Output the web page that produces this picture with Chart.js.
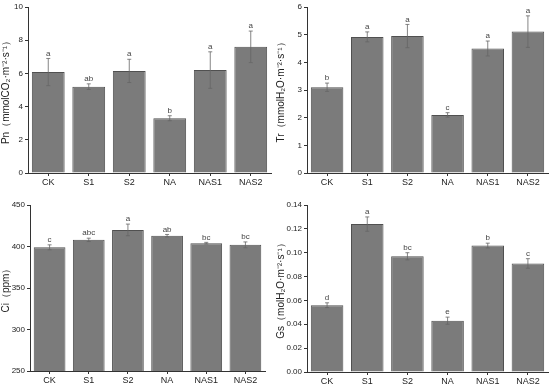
<!DOCTYPE html>
<html>
<head>
<meta charset="utf-8">
<script src="https://cdn.jsdelivr.net/npm/chart.js@4"></script>
<style>
  body { margin: 0; background: #fff; }
  #wrap { position: relative; width: 550px; height: 387px; }
  .panel { position: absolute; }
</style>
</head>
<body>
<div id="wrap">
  <div class="panel" style="left:0;top:0;width:275px;height:190px"><canvas id="pn"></canvas></div>
  <div class="panel" style="left:275px;top:0;width:275px;height:190px"><canvas id="tr"></canvas></div>
  <div class="panel" style="left:0;top:190px;width:275px;height:197px"><canvas id="ci"></canvas></div>
  <div class="panel" style="left:275px;top:190px;width:275px;height:197px"><canvas id="gs"></canvas></div>
</div>
<script>
// Data

const groups = ["CK", "S1", "S2", "NA", "NAS1", "NAS2"];

const pnValues = [6.08, 5.2, 6.15, 3.3, 6.2, 7.6];
const pnErrors = [0.82, 0.17, 0.7, 0.15, 1.1, 0.95];
const pnLetters = ["a", "ab", "a", "b", "a", "a"];

const trValues = [3.1, 4.92, 4.95, 2.1, 4.5, 5.11];
const trErrors = [0.15, 0.18, 0.42, 0.08, 0.27, 0.57];
const trLetters = ["b", "a", "a", "c", "a", "a"];

const ciValues = [399, 408, 420, 413, 404, 402];
const ciErrors = [3, 2, 7, 1.5, 1, 3.5];
const ciLetters = ["c", "abc", "a", "ab", "bc", "bc"];

const gsValues = [0.056, 0.124, 0.097, 0.043, 0.106, 0.091];
const gsErrors = [0.002, 0.006, 0.003, 0.003, 0.002, 0.004];
const gsLetters = ["d", "a", "bc", "e", "b", "c"];

const font = "'Liberation Sans', Arial, sans-serif";

// error bars + significance letters
const errorBars = {
  id: "errorBars",
  afterDatasetsDraw(chart, args, opts) {
    const ctx = chart.ctx;
    const meta = chart.getDatasetMeta(0);
    const y = chart.scales.y;
    ctx.save();
    ctx.strokeStyle = "#666";
    ctx.lineWidth = 0.8;
    meta.data.forEach((bar, i) => {
      const v = opts.values[i];
      const e = opts.errors[i];
      const top = y.getPixelForValue(v + e);
      const bot = y.getPixelForValue(v - e);
      ctx.beginPath();
      ctx.moveTo(bar.x, top);
      ctx.lineTo(bar.x, bot);
      ctx.moveTo(bar.x - 2, top);
      ctx.lineTo(bar.x + 2, top);
      ctx.moveTo(bar.x - 2, bot);
      ctx.lineTo(bar.x + 2, bot);
      ctx.stroke();
      ctx.fillStyle = "#444";
      ctx.font = "8px " + font;
      ctx.textAlign = "center";
      ctx.textBaseline = "bottom";
      ctx.fillText(opts.letters[i], bar.x, top - 1);
    });
    ctx.restore();
  },
};

function makeChart(id, values, errors, letters, yMin, yMax, step, title, pad, yWidth, xHeight, decimals) {
  new Chart(document.getElementById(id), {
    type: "bar",
    data: {
      labels: groups,
      datasets: [
        {
          data: values,
          backgroundColor: "#7b7b7b",
          borderColor: "#505050",
          borderWidth: 1,
          barPercentage: 0.81,
          categoryPercentage: 1.0,
        },
      ],
    },
    options: {
      animation: false,
      responsive: true,
      maintainAspectRatio: false,
      layout: { padding: pad },
      plugins: {
        legend: { display: false },
        tooltip: { enabled: false },
        errorBars: { values: values, errors: errors, letters: letters },
      },
      scales: {
        x: {
          grid: { display: true, drawOnChartArea: false, offset: false, tickLength: 3, color: "#333" },
          border: { color: "#333", width: 1 },
          ticks: { color: "#222", font: { family: font, size: 9 }, padding: 1, maxRotation: 0 },
          afterFit: (s) => { s.height = xHeight; },
        },
        y: {
          min: yMin,
          max: yMax,
          grid: { display: true, drawOnChartArea: false, tickLength: 3, color: "#333" },
          border: { color: "#333", width: 1 },
          ticks: {
            stepSize: step,
            color: "#222",
            padding: 2,
            font: { family: font, size: 8 },
            callback: (v) => v.toFixed(decimals),
          },
          title: {
            display: true,
            text: title,
            color: "#222",
            font: { family: font, size: 10 },
            padding: { top: 0, bottom: 0 },
          },
          afterFit: (s) => { s.width = yWidth; },
        },
      },
    },
    plugins: [errorBars],
  });
}

makeChart("pn", pnValues, pnErrors, pnLetters, 0, 10, 2,
  "Pn（mmolCO₂·m⁻²·s⁻¹）", { top: 7, right: 4 }, 28, 17, 0);
makeChart("tr", trValues, trErrors, trLetters, 0, 6, 1,
  "Tr（mmolH₂O·m⁻²·s⁻¹）", { top: 7, right: 2 }, 32, 17, 0);
makeChart("ci", ciValues, ciErrors, ciLetters, 250, 450, 50,
  "Ci（ppm）", { top: 15, right: 10 }, 30, 16, 0);
makeChart("gs", gsValues, gsErrors, gsLetters, 0, 0.14, 0.02,
  "Gs（molH₂O·m⁻²·s⁻¹）", { top: 15, right: 2 }, 32, 15, 2);
</script>
</body>
</html>
